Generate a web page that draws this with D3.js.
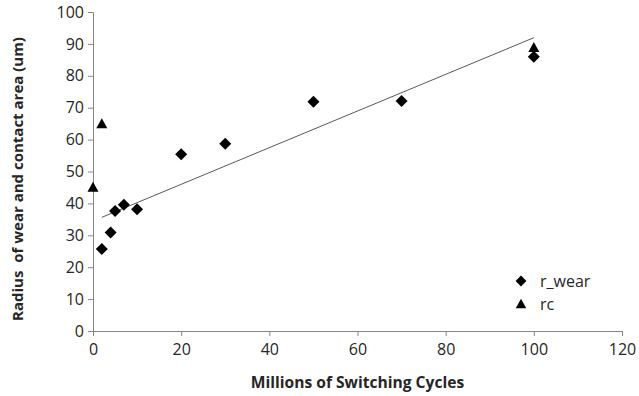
<!DOCTYPE html>
<html>
<head>
<meta charset="utf-8">
<script src="https://cdn.jsdelivr.net/npm/d3@7"></script>
<style>
    body { margin: 0; background: #fff; }
    text { font-family: "Open Sans", "Liberation Sans", sans-serif; }
</style>
</head>
<body>
<svg id="chart" width="639" height="396"></svg>
<script>
const wearCycles = [2, 4, 5, 7, 10, 20, 30, 50, 70, 100]
const wearRadius = [25.7, 30.9, 37.6, 39.6, 38.2, 55.4, 58.7, 71.9, 72.1, 86.0]

const rcCycles = [0, 2, 100]
const rcRadius = [45.1, 65.0, 88.9]

const xTicks = [0, 20, 40, 60, 80, 100, 120]
const yTicks = [0, 10, 20, 30, 40, 50, 60, 70, 80, 90, 100]

const seriesNames = ["r_wear", "rc"]

let margin = {
    top: 12,
    right: 17,
    bottom: 65,
    left: 93
};

let svg = d3.select("#chart");
let plotWidth = 639 - margin.left - margin.right;
let plotHeight = 396 - margin.top - margin.bottom;

let xScale = d3.scaleLinear()
    .domain([0, 120])
    .range([0, plotWidth]);

let yScale = d3.scaleLinear()
    .domain([0, 100])
    .range([plotHeight, 0]);

let plot = svg.append("g")
    .attr("transform", "translate(" + margin.left + "," + margin.top + ")");

let axisColor = "#868686";

let xAxis = d3.axisBottom(xScale).tickValues(xTicks).tickSize(5).tickPadding(8);
let yAxis = d3.axisLeft(yScale).tickValues(yTicks).tickSize(5).tickPadding(4);

let xGroup = plot.append("g")
    .attr("transform", "translate(0," + plotHeight + ")")
    .call(xAxis);
let yGroup = plot.append("g").call(yAxis);

[xGroup, yGroup].forEach(function(g) {
    g.select(".domain").attr("stroke", axisColor).attr("stroke-width", 1);
    g.selectAll(".tick line").attr("stroke", axisColor);
    g.selectAll(".tick text")
        .attr("fill", "#262626")
        .style("font-size", "16px")
        .style("font-family", "'Open Sans', sans-serif");
});

// linear trendline of r_wear
let n = wearCycles.length;
let mx = d3.mean(wearCycles), my = d3.mean(wearRadius);
let sxy = 0, sxx = 0;
for (let i = 0; i < n; i++) {
    sxy += (wearCycles[i] - mx) * (wearRadius[i] - my);
    sxx += (wearCycles[i] - mx) * (wearCycles[i] - mx);
}
let slope = sxy / sxx;
let intercept = my - slope * mx;
let xExt = d3.extent(wearCycles);

plot.append("line")
    .attr("x1", xScale(xExt[0]))
    .attr("y1", yScale(intercept + slope * xExt[0]))
    .attr("x2", xScale(xExt[1]))
    .attr("y2", yScale(intercept + slope * xExt[1]))
    .attr("stroke", "#595959")
    .attr("stroke-width", 1);

let diamond = "M0,-6L6,0L0,6L-6,0Z";
let triangle = "M0,-5.5L5.5,4.5L-5.5,4.5Z";

let wearData = wearCycles.map(function(c, i) { return [c, wearRadius[i]]; });
let rcData = rcCycles.map(function(c, i) { return [c, rcRadius[i]]; });

plot.selectAll("path.rc")
    .data(rcData)
    .enter()
    .append("path")
    .attr("class", "rc")
    .attr("d", triangle)
    .attr("transform", function(d) {
        return "translate(" + xScale(d[0]) + "," + yScale(d[1]) + ")";
    })
    .attr("fill", "#000");

plot.selectAll("path.wear")
    .data(wearData)
    .enter()
    .append("path")
    .attr("class", "wear")
    .attr("d", diamond)
    .attr("transform", function(d) {
        return "translate(" + xScale(d[0]) + "," + yScale(d[1]) + ")";
    })
    .attr("fill", "#000");

// legend
let legend = svg.append("g").attr("transform", "translate(521,281)");
let shapes = [diamond, triangle];
seriesNames.forEach(function(name, i) {
    let row = legend.append("g").attr("transform", "translate(0," + (i * 23) + ")");
    row.append("path")
        .attr("d", shapes[i])
        .attr("transform", i == 0 ? "scale(0.9)" : "scale(0.95)")
        .attr("fill", "#000");
    row.append("text")
        .attr("x", 19)
        .attr("y", 5.5)
        .attr("fill", "#262626")
        .style("font-size", "16px")
        .text(name);
});

// axis titles
svg.append("text")
    .attr("x", margin.left + xScale(60))
    .attr("y", 388)
    .attr("text-anchor", "middle")
    .attr("fill", "#262626")
    .style("font-size", "15.6px")
    .style("font-weight", "bold")
    .text("Millions of Switching Cycles");

svg.append("text")
    .attr("transform", "translate(23," + 179 + ") rotate(-90)")
    .attr("text-anchor", "middle")
    .attr("fill", "#262626")
    .style("font-size", "15px")
    .style("font-weight", "bold")
    .style("white-space", "pre")
    .text("Radius  of wear and contact area (um)");
</script>
</body>
</html>
